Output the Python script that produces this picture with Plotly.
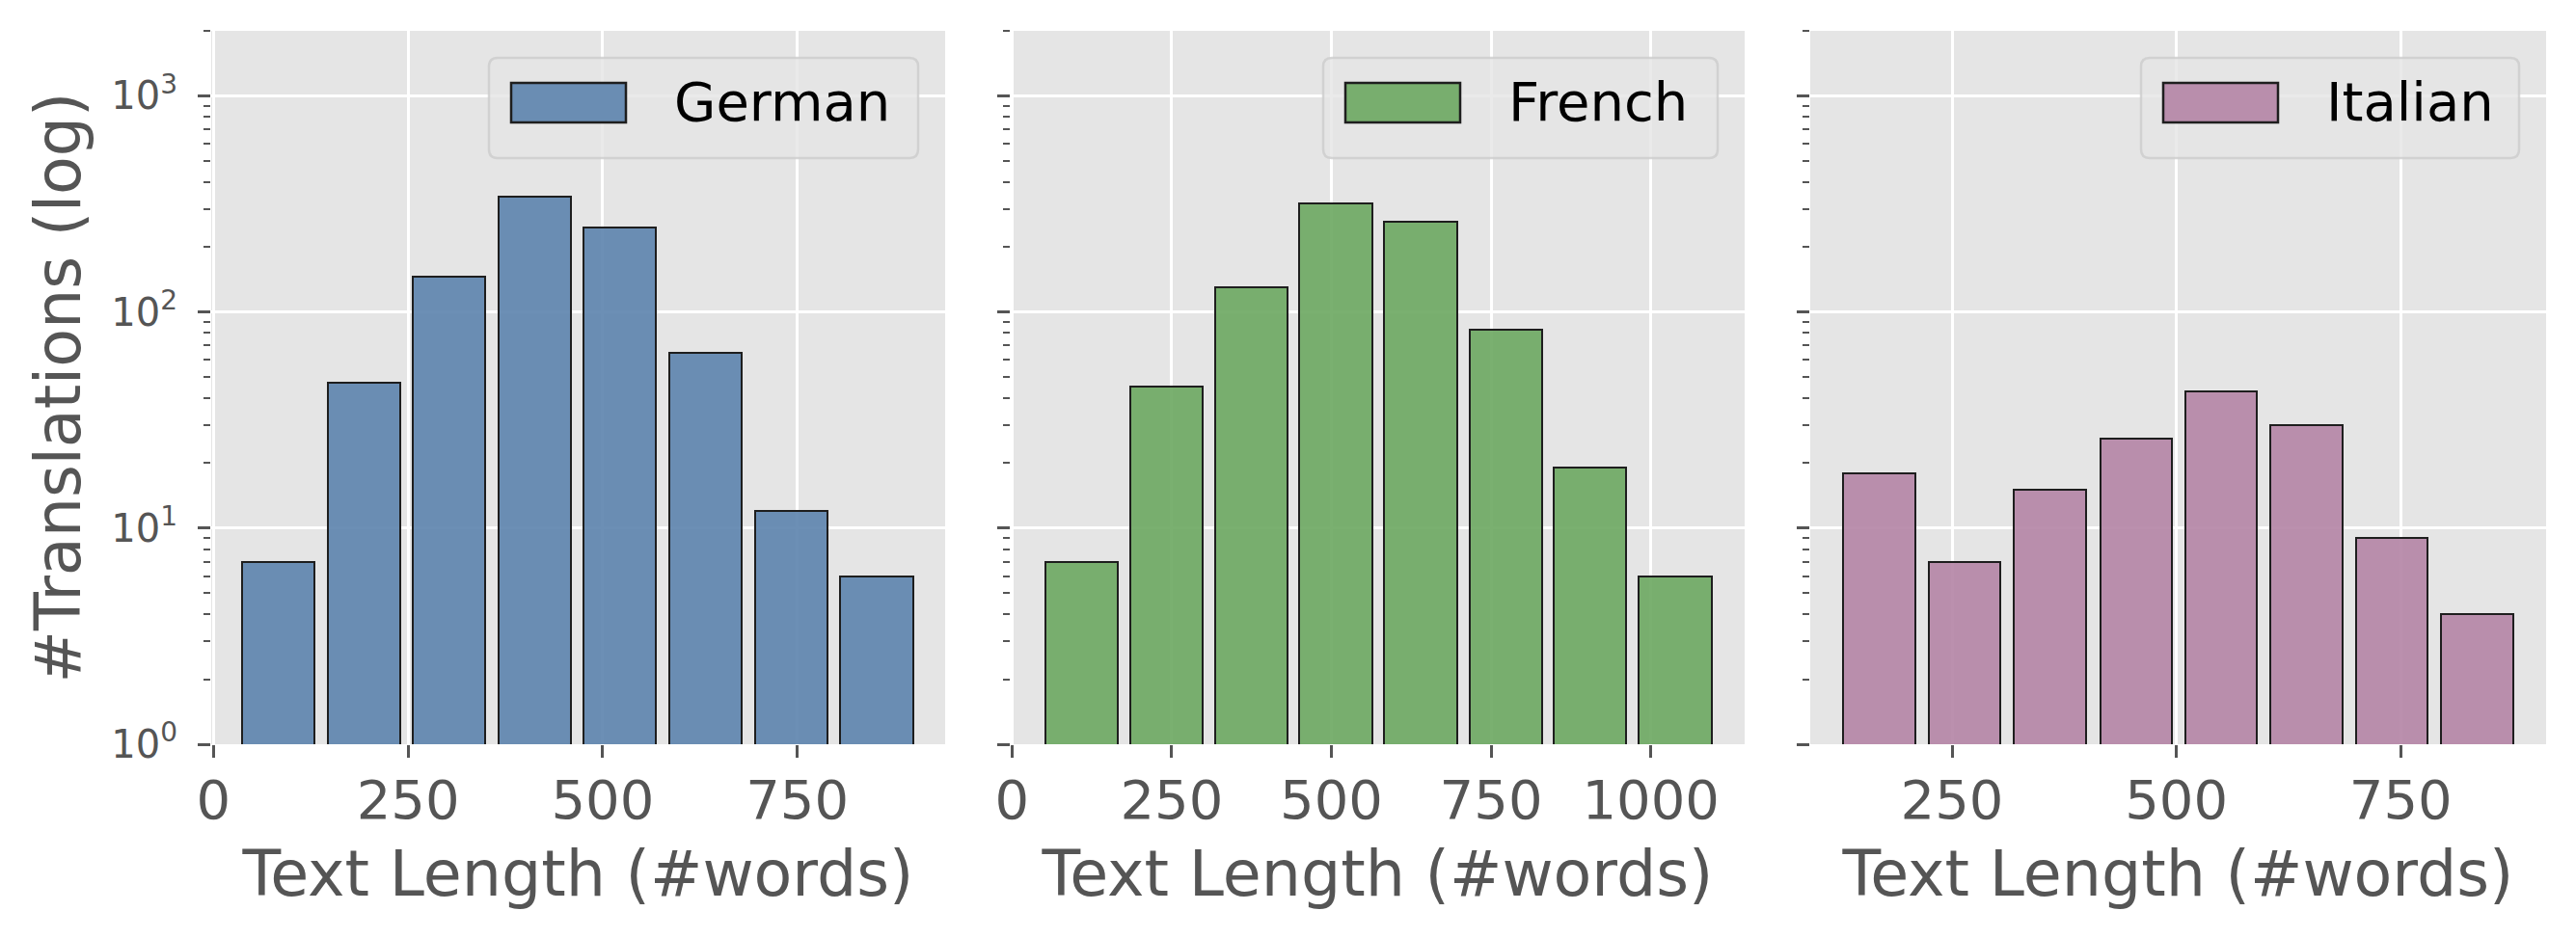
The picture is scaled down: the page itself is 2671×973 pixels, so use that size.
import plotly.graph_objects as go
from plotly.subplots import make_subplots

# histogram of text lengths per language (bin centres)
languages = ["German", "French", "Italian"]
german_bins = [83, 193, 303, 413, 522, 632, 742, 852]
german_counts = [7, 47, 146, 341, 246, 65, 12, 6]
french_bins = [109, 242, 375, 507, 640, 773, 905, 1038]
french_counts = [7, 45, 130, 318, 262, 83, 19, 6]
italian_bins = [169, 264, 359, 455, 550, 645, 740, 835]
italian_counts = [18, 7, 15, 26, 43, 30, 9, 4]

x_tickvals = [[0, 250, 500, 750], [0, 250, 500, 750, 1000], [250, 500, 750]]
y_tickvals = [1, 10, 100, 1000]
y_ticktext = ["10<sup>0</sup>", "10<sup>1</sup>", "10<sup>2</sup>", "10<sup>3</sup>"]

bins = [german_bins, french_bins, italian_bins]
counts = [german_counts, french_counts, italian_counts]
bar_width = [93, 114, 80]
x_ranges = [[-3, 940], [-2, 1147], [92, 912]]
colors = ["rgba(92,131,173,0.9)", "rgba(108,167,97,0.9)", "rgba(180,132,165,0.9)"]

W, H = 2671, 973
L, R, T, B = 219, 31, 32, 201
PW, PH = W - L - R, H - T - B
FONT = "DejaVu Sans"
GREY = "#555555"

# pixel extents of the three axes
ax_px = [(219, 980), (1048, 1809), (1877, 2640)]
legend_text_w = [227, 191, 174]

fig = make_subplots(rows=1, cols=3)

for i in range(3):
    fig.add_trace(go.Bar(x=bins[i], y=counts[i], width=bar_width[i],
                         marker=dict(color=colors[i], line=dict(color="#1e1e1e", width=2)),
                         name=languages[i], showlegend=False), row=1, col=i + 1)

minor_vals = [m * 10 ** e for e in range(3) for m in range(2, 10)] + [2000]

for i in range(3):
    a, b = ax_px[i]
    fig.update_xaxes(domain=[(a - L) / PW, (b - L) / PW], range=x_ranges[i],
                     tickvals=x_tickvals[i], ticks="outside", ticklen=13, tickwidth=3,
                     tickcolor=GREY, tickfont=dict(family=FONT, size=56, color=GREY),
                     ticklabelstandoff=-4,
                     showgrid=True, gridcolor="white", gridwidth=3, zeroline=False,
                     showline=False,
                     title=dict(text="Text Length (#words)", standoff=22,
                                font=dict(family=FONT, size=65, color=GREY)),
                     row=1, col=i + 1)
    fig.update_yaxes(type="log", range=[0, 3.301], tickvals=y_tickvals,
                     ticktext=y_ticktext, showticklabels=(i == 0),
                     ticks="outside", ticklen=13, tickwidth=3, tickcolor=GREY,
                     tickfont=dict(family=FONT, size=40, color=GREY),
                     ticklabelstandoff=13,
                     minor=dict(tickvals=minor_vals, ticks="outside", ticklen=7,
                                tickwidth=2, tickcolor=GREY, showgrid=False),
                     showgrid=True, gridcolor="white", gridwidth=3, zeroline=False,
                     showline=False, row=1, col=i + 1)

fig.update_yaxes(title=dict(text="#Translations (log)", standoff=10,
                            font=dict(family=FONT, size=65, color=GREY)), row=1, col=1)


def px(x):
    return (x - L) / PW


def py(y):
    return (H - B - y) / PH


def rounded_box(x0, y0, x1, y1, r):
    return (f"M {px(x0 + r)},{py(y0)} L {px(x1 - r)},{py(y0)} "
            f"Q {px(x1)},{py(y0)} {px(x1)},{py(y0 + r)} L {px(x1)},{py(y1 - r)} "
            f"Q {px(x1)},{py(y1)} {px(x1 - r)},{py(y1)} L {px(x0 + r)},{py(y1)} "
            f"Q {px(x0)},{py(y1)} {px(x0)},{py(y1 - r)} L {px(x0)},{py(y0 + r)} "
            f"Q {px(x0)},{py(y0)} {px(x0 + r)},{py(y0)} Z")


# legends drawn like matplotlib's (upper right, framed)
for i in range(3):
    right = ax_px[i][1] - 28
    left = right - (23 + 119 + 48 + legend_text_w[i] + 28)
    top, bottom = T + 28, T + 28 + 104
    fig.add_shape(type="path", path=rounded_box(left, top, right, bottom, 9),
                  xref="paper", yref="paper", fillcolor="rgba(229,229,229,0.8)",
                  line=dict(color="rgba(204,204,204,0.8)", width=2.5), layer="above")
    fig.add_shape(type="rect", xref="paper", yref="paper",
                  x0=px(left + 23), x1=px(left + 142), y0=py(86), y1=py(127),
                  fillcolor=colors[i], line=dict(color="#1e1e1e", width=2.5), layer="above")
    fig.add_annotation(xref="paper", yref="paper", x=px(left + 190), y=py(106),
                       xanchor="left", yanchor="middle", text=languages[i], showarrow=False,
                       font=dict(family=FONT, size=56, color="black"))

fig.update_layout(width=W, height=H, margin=dict(l=L, r=R, t=T, b=B),
                  paper_bgcolor="white", plot_bgcolor="#e5e5e5", bargap=0,
                  font=dict(family=FONT, color=GREY))

fig.write_html("out.html", config={"displayModeBar": False},
               post_script="document.body.style.margin='0';")
